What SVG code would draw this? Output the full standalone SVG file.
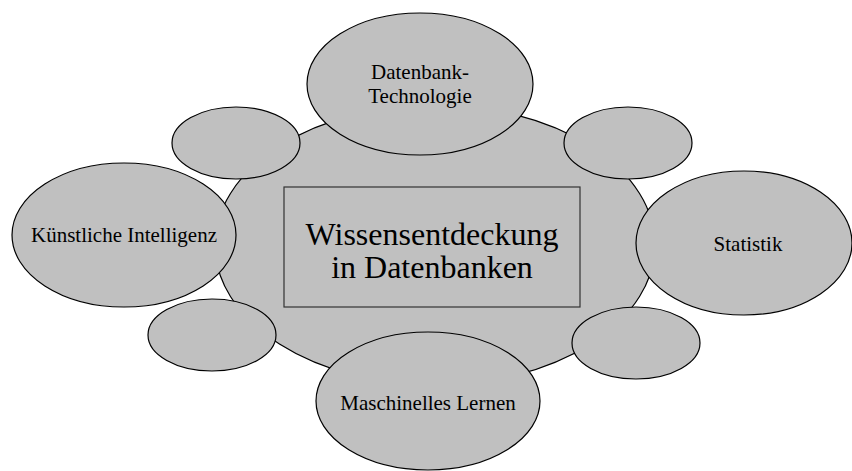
<svg xmlns="http://www.w3.org/2000/svg" width="852" height="471" viewBox="0 0 852 471">
<style>
.n{fill:#c0c0c0;stroke:#000;stroke-width:1.2}
.t{font-family:"Liberation Serif","Times New Roman",serif;fill:#000;text-anchor:middle}
.s{font-size:21px}
.b{font-size:32px}
</style>
<rect width="852" height="471" fill="#fff"/>
<g id="center">
<ellipse class="n" cx="435" cy="245" rx="220" ry="140"/>
<rect x="284" y="187" width="296" height="120" fill="#c0c0c0" stroke="#333" stroke-width="1.2"/>
<text class="t b" x="432" y="245">Wissensentdeckung</text>
<text class="t b" x="432" y="278">in Datenbanken</text>
</g>
<g id="small-tl"><ellipse class="n" cx="236" cy="143" rx="64" ry="36"/></g>
<g id="small-bl"><ellipse class="n" cx="212" cy="335" rx="64" ry="36"/></g>
<g id="small-tr"><ellipse class="n" cx="628" cy="143" rx="64" ry="36"/></g>
<g id="small-br"><ellipse class="n" cx="636" cy="343" rx="64" ry="36"/></g>
<g id="datenbank">
<ellipse class="n" cx="420" cy="84" rx="113" ry="71"/>
<text class="t s" x="420" y="79">Datenbank-</text>
<text class="t s" x="420" y="103">Technologie</text>
</g>
<g id="ki">
<ellipse class="n" cx="124" cy="235" rx="112" ry="72"/>
<text class="t s" x="124" y="242">Künstliche Intelligenz</text>
</g>
<g id="statistik">
<ellipse class="n" cx="744" cy="243" rx="108" ry="72"/>
<text class="t s" x="748" y="251">Statistik</text>
</g>
<g id="ml">
<ellipse class="n" cx="428" cy="401" rx="112" ry="69"/>
<text class="t s" x="428" y="410">Maschinelles Lernen</text>
</g>
<g id="connectors"></g>
</svg>
